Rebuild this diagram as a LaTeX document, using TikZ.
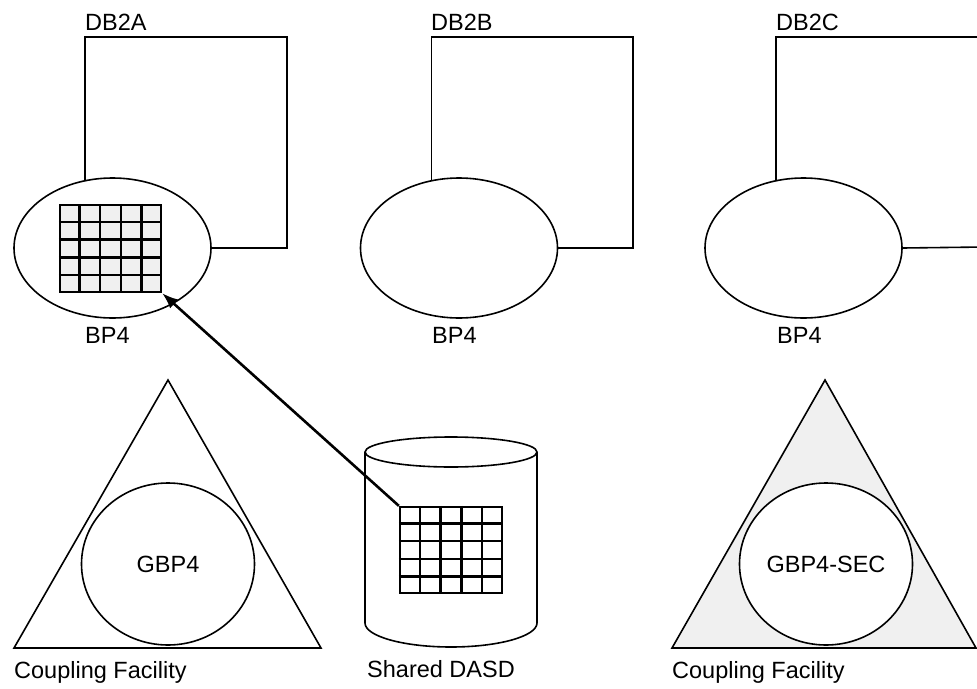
\documentclass[tikz,border=0pt]{standalone}
\usepackage{fontspec}
\setmainfont{Liberation Sans}
\usepackage{tikz}
\usetikzlibrary{shapes,arrows,arrows.meta,calc}
\tikzstyle{pool} = [ellipse, draw, line width=1.6pt, minimum width=197pt,
minimum height=140pt, inner sep=0pt]
\tikzstyle{gbp} = [ellipse, draw, line width=1.6pt, fill=white,
minimum width=173pt, minimum height=162pt, inner sep=0pt]
\tikzstyle{page} = [rectangle, draw, line width=2.3pt, inner sep=0pt]
\tikzstyle{grid} = [line width=2.3pt]
\tikzstyle{label} = [anchor=base west, inner sep=0pt]
\tikzstyle{wire} = [draw, line width=1.6pt]
\tikzstyle{line} = [draw, line width=2.6pt, -{Latex[length=16pt,width=12pt]}]

\begin{document}
\begin{tikzpicture}[x=1pt, y=-1pt, font=\fontsize{23.5}{28}\selectfont]
        \useasboundingbox (0,0) rectangle (977,688);

        % buffer pools
        \node [pool] (bpa) at (112.5,248) {};
        \node [pool] (bpb) at (459,248) {};
        \node [pool] (bpc) at (803.5,248) {};
        \node [label] (bpla) at (85,343) {BP4};
        \node [label] (bplb) at (432,343) {BP4};
        \node [label] (bplc) at (777,343) {BP4};

        % members
        \node [label] (db2a) at (85,30) {DB2A};
        \node [label] (db2b) at (431,30) {DB2B};
        \node [label] (db2c) at (776,30) {DB2C};
        \coordinate (corna) at (287,37);
        \coordinate (cornb) at (633,37);
        \coordinate (cornc) at (985,37);
        \coordinate (edgec) at (985,247);
        \path [wire] (bpa.112) |- (corna) |- (bpa.east);
        \path [wire] (bpb.112) |- (cornb) |- (bpb.east);
        \path [wire] (bpc.112) |- (cornc);
        \path [wire] (bpc.east) -- (edgec);

        % coupling facilities
        \draw [line width=1.6pt] (168,380) -- (321,648) -- (14,648) -- cycle;
        \draw [line width=1.6pt, fill=gray!12] (825,380) -- (976,648) -- (672,648) -- cycle;
        \node [gbp] (gbpa) at (168,564) {GBP4};
        \node [gbp] (gbpc) at (826,564) {GBP4-SEC};
        \node [label] (cfa) at (14,678) {Coupling Facility};
        \node [label] (cfc) at (672,678) {Coupling Facility};

        % shared DASD
        \draw [line width=1.6pt] (451,452) ellipse [x radius=86pt, y radius=15pt];
        \draw [line width=1.6pt] (365,452) -- (365,623)
              arc [start angle=180, end angle=360, x radius=86pt, y radius=24pt] -- (537,452);
        \node [label] (dasd) at (367,677) {Shared DASD};

        % pages
        \node [page, fill=gray!12, minimum width=101pt, minimum height=87pt] (pagea) at (110.5,248.5) {};
        \node [page, fill=white, minimum width=102pt, minimum height=86pt] (paged) at (451,550) {};
        \foreach \p in {pagea, paged}
          \foreach \k in {1,...,4} {
            \draw [grid] ($(\p.north west)!\k/5!(\p.north east)$) -- ($(\p.south west)!\k/5!(\p.south east)$);
            \draw [grid] ($(\p.north west)!\k/5!(\p.south west)$) -- ($(\p.north east)!\k/5!(\p.south east)$);
          }

        \path [line] (paged.north west) -- (pagea.south east);
\end{tikzpicture}
\end{document}
